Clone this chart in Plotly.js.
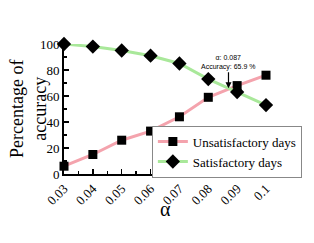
<!DOCTYPE html>
<html><head><meta charset="utf-8">
<script src="https://cdn.plot.ly/plotly-3.0.1.min.js"></script>
<style>html,body{margin:0;padding:0;background:#fff}#c{width:314px;height:243px}</style>
</head><body><div id="c"></div>
<script>
const alphas = [0.03, 0.04, 0.05, 0.06, 0.07, 0.08, 0.09, 0.1];
const tickLabels = ["0.03", "0.04", "0.05", "0.06", "0.07", "0.08", "0.09", "0.1"];
const unsatisfactory = [6, 15, 26, 33, 44, 59, 68, 76];
const satisfactory = [100, 98, 95, 91, 85, 73, 63, 53];
const crossAlpha = 0.087;
const crossAccuracy = 65.9;
const xTitle = "α";
const yTitle = "Percentage of<br>accuracy";

const serif = "Liberation Serif, Times New Roman, serif";
const data = [
  {x: alphas, y: unsatisfactory, name: "Unsatisfactory days", mode: "lines+markers",
   line: {color: "#f4a3ad", width: 3}, marker: {symbol: "square", size: 9, color: "#000"}, cliponaxis: false},
  {x: alphas, y: satisfactory, name: "Satisfactory days", mode: "lines+markers",
   line: {color: "#a9e89a", width: 3}, marker: {symbol: "diamond", size: 11, color: "#000"}, cliponaxis: false}
];
const layout = {
  width: 314, height: 243,
  margin: {l: 64, r: 13, t: 44, b: 69},
  paper_bgcolor: "#fff", plot_bgcolor: "#fff",
  showlegend: true,
  font: {family: serif, color: "#000"},
  xaxis: {range: [0.03, 0.1], tickvals: alphas, ticktext: tickLabels, tickangle: -45,
    showgrid: false, zeroline: false, showline: true, linecolor: "#000", linewidth: 2,
    ticks: "inside", ticklen: 5, tickwidth: 1.5, tickcolor: "#000",
    minor: {dtick: 0.005, tick0: 0.03, ticks: "inside", ticklen: 3, tickcolor: "#000"},
    tickfont: {family: serif, size: 13, color: "#000"}},
  yaxis: {range: [0, 100], tickvals: [0, 20, 40, 60, 80, 100],
    showgrid: false, zeroline: false, showline: true, linecolor: "#000", linewidth: 2,
    ticks: "inside", ticklen: 5, tickwidth: 1.5, tickcolor: "#000",
    minor: {dtick: 10, ticks: "inside", ticklen: 3, tickcolor: "#000"},
    tickfont: {family: serif, size: 13, color: "#000"}},
  legend: {x: 0.435, y: 0.172, xanchor: "left", yanchor: "middle", bordercolor: "#888", borderwidth: 1,
    bgcolor: "#fff", font: {family: serif, size: 13, color: "#000"}, tracegroupgap: 0,
    itemwidth: 30},
  annotations: [
    {x: crossAlpha, y: crossAccuracy, xref: "x", yref: "y",
     text: "α: " + crossAlpha + "<br>Accuracy: " + crossAccuracy + " %",
     showarrow: true, arrowhead: 2, arrowsize: 1, arrowwidth: 1.2, arrowcolor: "#000",
     ax: 0, ay: -26, font: {family: "Liberation Sans, Arial, sans-serif", size: 7, color: "#000"}},
    {x: 0.5, y: -0.27, xref: "paper", yref: "paper", text: xTitle, showarrow: false,
     xanchor: "center", yanchor: "middle", font: {family: serif, size: 20, color: "#000"}},
    {x: -0.178, y: 0.5, xref: "paper", yref: "paper", text: yTitle, showarrow: false, textangle: -90,
     xanchor: "center", yanchor: "middle", font: {family: serif, size: 18, color: "#000"}}
  ]
};
Plotly.newPlot("c", data, layout, {displayModeBar: false, staticPlot: true});
</script></body></html>
